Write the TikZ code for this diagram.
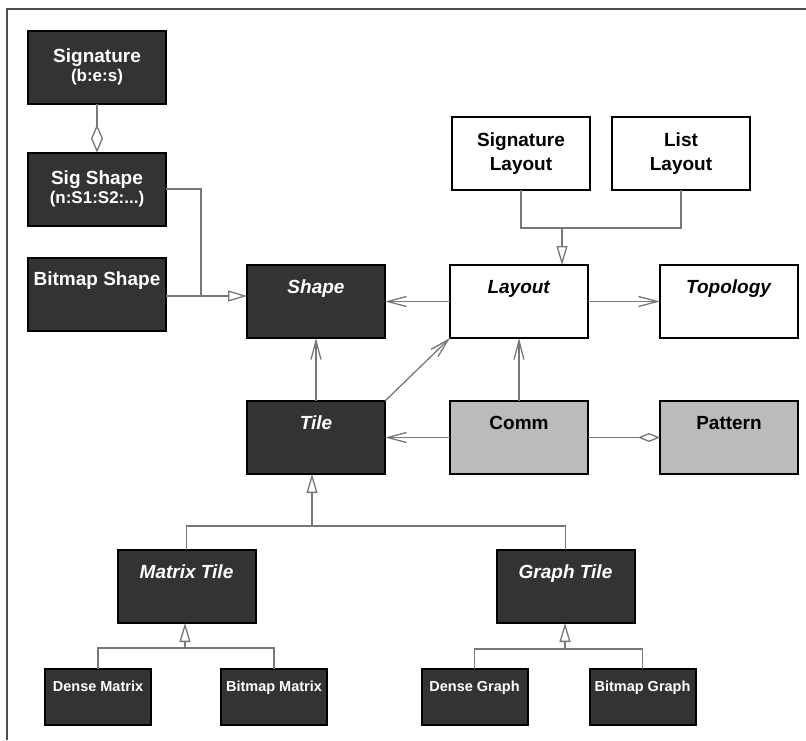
\documentclass[tikz,border=0pt]{standalone}
\usepackage{fontspec}
\setmainfont{Liberation Sans}
\usetikzlibrary{positioning, arrows.meta, calc}

\definecolor{boxdark}{HTML}{333333}
\definecolor{boxgrey}{HTML}{BBBBBB}
\definecolor{linegrey}{HTML}{777777}

\begin{document}
\begin{tikzpicture}[
  x=1pt, y=1pt,
  font=\fontsize{19}{24}\selectfont\bfseries,
  cls/.style={rectangle, draw=black, line width=2pt, minimum width=138pt, minimum height=73pt, align=center, inner sep=0pt, outer sep=0pt},
  top/.style={text height=28pt, text depth=45pt},
  dark/.style={cls, fill=boxdark, text=white},
  light/.style={cls, fill=white},
  grey/.style={cls, fill=boxgrey},
  small/.style={dark, minimum width=106pt, minimum height=56pt, text height=22pt, text depth=34pt, font=\fontsize{14.5}{17}\selectfont\bfseries},
  link/.style={draw=linegrey, line width=1.3pt},
  uses/.style={link, -{Straight Barb[length=19pt, width=10pt]}},
  isa/.style={link, -{Triangle[open, length=19pt, width=11pt, fill=white]}},
  part/.style={link, -{Diamond[open, length=22pt, width=9pt, fill=white]}}
]
  \useasboundingbox (0,0) rectangle (806,-740);
  \draw[line width=1.5pt, draw=black!70] (7,-740) |- (806,-9);

  \node[dark] (sig) at (97,-67) {Signature\\[-5pt]{\fontsize{17}{20}\selectfont(b:e:s)}};
  \node[dark, below=49pt of sig] (sigshape) {Sig Shape\\[-5pt]{\fontsize{17}{20}\selectfont(n:S1:S2:...)}};
  \node[dark, top, below=32pt of sigshape] (bmshape) {Bitmap Shape};
  \node[dark, top] (shape) at (316,-301.5) {\textit{Shape}};
  \node[light, top, right=65pt of shape] (layout) {\textit{Layout}};
  \node[light, top, right=72pt of layout] (topo) {\textit{Topology}};
  \node[light, above=75pt of layout, xshift=2pt] (siglayout) {Signature\\Layout};
  \node[light, right=22pt of siglayout] (listlayout) {List\\Layout};
  \node[dark, top, below=63pt of shape] (tile) {\textit{Tile}};
  \node[grey, top, below=63pt of layout] (comm) {Comm};
  \node[grey, top, below=63pt of topo] (pattern) {Pattern};
  \node[dark, top, below=76pt of tile, xshift=-129.5pt] (mtile) {\textit{Matrix Tile}};
  \node[dark, top, right=241pt of mtile] (gtile) {\textit{Graph Tile}};
  \node[small, below=46pt of mtile, xshift=-88.5pt] (dmat) {Dense Matrix};
  \node[small, right=70pt of dmat] (bmat) {Bitmap Matrix};
  \node[small, below=46pt of gtile, xshift=-91pt] (dgraph) {Dense Graph};
  \node[small, right=62pt of dgraph] (bgraph) {Bitmap Graph};

  \coordinate (shub) at (201,-296);
  \coordinate (lhub) at (562,-228);
  \coordinate (thub) at (312,-526);
  \coordinate (mhub) at (185,-648);
  \coordinate (ghub) at (565,-649);

  \draw[link, -{Diamond[open, length=28pt, width=12pt, fill=white]}] (sig.south) -- (sigshape.north);
  \draw[link] (sigshape.east) -| (shub);
  \draw[isa] (bmshape.east |- shub) -- (shape.west |- shub);
  \draw[uses] (layout.west) -- (shape.east);
  \draw[uses] (layout.east) -- (topo.west);
  \draw[uses] (tile.north) -- (shape.south);
  \draw[uses] (tile.north east) -- (layout.south west);
  \draw[uses] (comm.north) -- (layout.south);
  \draw[uses] (comm.west) -- (tile.east);
  \draw[part] (comm.east) -- (pattern.west);
  \draw[link] (siglayout.south) |- (lhub);
  \draw[link] (listlayout.south) |- (lhub);
  \draw[isa] (lhub) -- (lhub |- layout.north);
  \draw[link] (mtile.north) |- (thub);
  \draw[link] (gtile.north) |- (thub);
  \draw[isa] (thub) -- (thub |- tile.south);
  \draw[link] (dmat.north) |- (mhub);
  \draw[link] (bmat.north) |- (mhub);
  \draw[isa] (mhub) -- (mhub |- mtile.south);
  \draw[link] (dgraph.north) |- (ghub);
  \draw[link] (bgraph.north) |- (ghub);
  \draw[isa] (ghub) -- (ghub |- gtile.south);
\end{tikzpicture}
\end{document}
